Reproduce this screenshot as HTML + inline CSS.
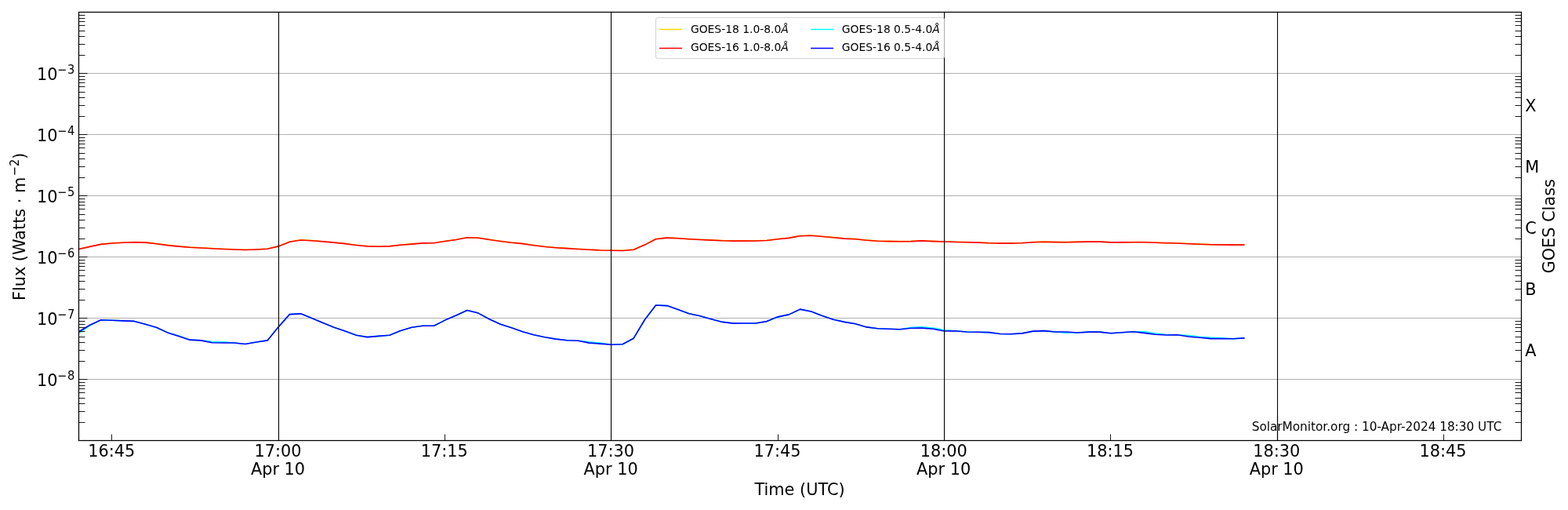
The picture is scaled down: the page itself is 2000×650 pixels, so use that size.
<!DOCTYPE html><html><head><meta charset="utf-8"><title>GOES X-ray Flux</title>
<style>html,body{margin:0;padding:0;background:#fff;}svg{display:block;}text{font-family:"DejaVu Sans", "Liberation Sans", sans-serif;fill:#000;}</style></head><body>
<svg width="2000" height="650" viewBox="0 0 2000 650">
<rect x="0" y="0" width="2000" height="650" fill="#fff"/>
<path d="M100.5 483.5H1940.5M100.5 405.5H1940.5M100.5 327.5H1940.5M100.5 249.5H1940.5M100.5 171.5H1940.5M100.5 93.5H1940.5" stroke="#b0b0b0" stroke-width="1.1" fill="none"/>
<defs><clipPath id="ax"><rect x="100.5" y="15.5" width="1840.0" height="546.0"/></clipPath></defs>
<g clip-path="url(#ax)" fill="none" stroke-width="1.6" stroke-linejoin="round" stroke-linecap="square">
<polyline points="100.50,317.30 114.65,314.20 128.81,311.20 142.96,309.80 157.12,309.05 171.27,308.55 185.42,308.90 199.58,310.50 213.73,312.40 227.88,313.90 242.04,315.10 256.19,315.80 270.35,316.55 284.50,317.30 298.65,317.80 312.81,318.25 326.96,317.75 341.12,317.05 355.27,313.70 369.42,308.10 383.58,305.80 397.73,306.60 411.88,307.70 426.04,308.95 440.19,310.40 454.35,312.30 468.50,313.70 482.65,314.05 496.81,313.70 510.96,312.10 525.12,310.90 539.27,309.70 553.42,309.50 567.58,307.35 581.73,305.30 595.88,302.60 610.04,303.10 624.19,305.30 638.35,307.35 652.50,309.10 666.65,310.40 680.81,312.50 694.96,314.30 709.12,315.50 723.27,316.40 737.42,317.30 751.58,318.10 765.73,318.80 779.88,319.05 794.04,319.25 808.19,318.10 822.35,311.90 836.50,304.50 850.65,302.90 864.81,303.60 878.96,304.60 893.12,305.30 907.27,305.90 921.42,306.60 935.58,306.90 949.73,306.90 963.88,306.80 978.04,306.30 992.19,304.60 1006.35,303.15 1020.50,300.50 1034.65,300.00 1048.81,301.25 1062.96,302.60 1077.12,303.90 1091.27,304.60 1105.42,306.10 1119.58,307.10 1133.73,307.40 1147.88,307.60 1162.04,307.40 1176.19,306.70 1190.35,307.40 1204.50,307.80 1218.65,308.30 1232.81,308.60 1246.96,308.95 1261.12,309.60 1275.27,309.90 1289.42,309.90 1303.58,309.50 1317.73,308.60 1331.88,308.10 1346.04,308.45 1360.19,308.60 1374.35,308.15 1388.50,307.95 1402.65,307.95 1416.81,308.70 1430.96,308.70 1445.12,308.50 1459.27,308.50 1473.42,309.10 1487.58,309.60 1501.73,309.80 1515.88,310.50 1530.04,311.10 1544.19,311.60 1558.35,311.70 1572.50,311.90 1586.65,311.90" stroke="#ffd700"/>
<polyline points="100.50,317.50 114.65,314.40 128.81,311.40 142.96,310.00 157.12,309.25 171.27,308.75 185.42,309.10 199.58,310.70 213.73,312.60 227.88,314.10 242.04,315.30 256.19,316.00 270.35,316.75 284.50,317.50 298.65,318.00 312.81,318.45 326.96,317.95 341.12,317.25 355.27,313.90 369.42,308.30 383.58,306.00 397.73,306.80 411.88,307.90 426.04,309.15 440.19,310.60 454.35,312.50 468.50,313.90 482.65,314.25 496.81,313.90 510.96,312.30 525.12,311.10 539.27,309.90 553.42,309.70 567.58,307.55 581.73,305.50 595.88,302.80 610.04,303.30 624.19,305.50 638.35,307.55 652.50,309.30 666.65,310.60 680.81,312.70 694.96,314.50 709.12,315.70 723.27,316.60 737.42,317.50 751.58,318.30 765.73,319.00 779.88,319.25 794.04,319.45 808.19,318.30 822.35,312.10 836.50,304.70 850.65,303.10 864.81,303.80 878.96,304.80 893.12,305.50 907.27,306.10 921.42,306.80 935.58,307.10 949.73,307.10 963.88,307.00 978.04,306.50 992.19,304.80 1006.35,303.35 1020.50,300.70 1034.65,300.20 1048.81,301.45 1062.96,302.80 1077.12,304.10 1091.27,304.80 1105.42,306.30 1119.58,307.30 1133.73,307.60 1147.88,307.80 1162.04,307.60 1176.19,306.90 1190.35,307.60 1204.50,308.00 1218.65,308.50 1232.81,308.80 1246.96,309.15 1261.12,309.80 1275.27,310.10 1289.42,310.10 1303.58,309.70 1317.73,308.80 1331.88,308.30 1346.04,308.65 1360.19,308.80 1374.35,308.35 1388.50,308.15 1402.65,308.15 1416.81,308.90 1430.96,308.90 1445.12,308.70 1459.27,308.70 1473.42,309.30 1487.58,309.80 1501.73,310.00 1515.88,310.70 1530.04,311.30 1544.19,311.80 1558.35,311.90 1572.50,312.10 1586.65,312.10" stroke="#ff0000"/>
<polyline points="100.50,424.60 114.65,414.80 128.81,407.75 142.96,408.30 157.12,408.90 171.27,409.40 185.42,413.30 199.58,417.70 213.73,423.90 227.88,427.80 242.04,433.15 256.19,433.90 270.35,435.60 284.50,435.85 298.65,436.95 312.81,438.45 326.96,436.00 341.12,433.90 355.27,416.60 369.42,400.60 383.58,399.85 397.73,405.50 411.88,411.50 426.04,417.20 440.19,422.10 454.35,427.20 468.50,429.60 482.65,428.40 496.81,427.20 510.96,421.40 525.12,417.30 539.27,415.20 553.42,415.20 567.58,408.10 581.73,402.00 595.88,395.40 610.04,399.10 624.19,406.70 638.35,413.30 652.50,417.70 666.65,422.70 680.81,426.80 694.96,429.80 709.12,432.10 723.27,433.70 737.42,434.25 751.58,435.90 765.73,437.10 779.88,439.20 794.04,438.70 808.19,431.20 822.35,407.50 836.50,389.00 850.65,389.60 864.81,394.60 878.96,399.80 893.12,402.80 907.27,406.70 921.42,410.40 935.58,412.10 949.73,412.00 963.88,412.00 978.04,409.60 992.19,403.85 1006.35,400.90 1020.50,394.15 1034.65,397.00 1048.81,402.50 1062.96,407.25 1077.12,410.40 1091.27,412.80 1105.42,416.90 1119.58,418.80 1133.73,419.30 1147.88,419.70 1162.04,417.40 1176.19,416.90 1190.35,418.10 1204.50,420.70 1218.65,421.70 1232.81,423.00 1246.96,423.20 1261.12,423.60 1275.27,425.50 1289.42,425.80 1303.58,424.90 1317.73,422.10 1331.88,421.60 1346.04,423.00 1360.19,424.10 1374.35,424.00 1388.50,423.15 1402.65,423.15 1416.81,424.70 1430.96,423.80 1445.12,422.80 1459.27,422.65 1473.42,425.10 1487.58,426.50 1501.73,426.80 1515.88,427.60 1530.04,429.40 1544.19,430.20 1558.35,430.80 1572.50,431.80 1586.65,430.90" stroke="#00ffff"/>
<polyline points="100.50,422.80 114.65,414.20 128.81,407.75 142.96,408.30 157.12,408.90 171.27,409.40 185.42,413.30 199.58,417.20 213.73,423.90 227.88,428.50 242.04,433.15 256.19,433.90 270.35,436.70 284.50,436.95 298.65,436.95 312.81,438.45 326.96,436.00 341.12,433.90 355.27,416.60 369.42,400.60 383.58,399.85 397.73,405.50 411.88,411.50 426.04,417.20 440.19,422.10 454.35,427.20 468.50,429.60 482.65,428.40 496.81,427.20 510.96,421.40 525.12,417.30 539.27,415.20 553.42,415.20 567.58,408.10 581.73,402.00 595.88,395.40 610.04,399.10 624.19,406.70 638.35,413.30 652.50,417.70 666.65,422.70 680.81,426.80 694.96,429.80 709.12,432.10 723.27,433.70 737.42,434.25 751.58,437.10 765.73,438.10 779.88,439.20 794.04,438.70 808.19,431.20 822.35,407.50 836.50,389.00 850.65,389.60 864.81,394.60 878.96,399.80 893.12,402.80 907.27,406.70 921.42,410.40 935.58,412.10 949.73,412.00 963.88,412.00 978.04,409.60 992.19,403.85 1006.35,400.90 1020.50,394.15 1034.65,397.00 1048.81,402.50 1062.96,407.25 1077.12,410.40 1091.27,412.80 1105.42,416.90 1119.58,418.80 1133.73,419.30 1147.88,419.70 1162.04,418.30 1176.19,418.10 1190.35,419.20 1204.50,422.00 1218.65,421.70 1232.81,423.00 1246.96,423.20 1261.12,423.60 1275.27,425.50 1289.42,425.80 1303.58,424.90 1317.73,422.10 1331.88,421.60 1346.04,423.00 1360.19,423.00 1374.35,424.00 1388.50,423.15 1402.65,423.15 1416.81,424.70 1430.96,423.80 1445.12,422.80 1459.27,424.35 1473.42,426.30 1487.58,427.00 1501.73,426.80 1515.88,429.00 1530.04,430.30 1544.19,431.60 1558.35,431.60 1572.50,431.80 1586.65,430.90" stroke="#0000ff"/>
</g>
<path d="M355.5 15.5V561.5M779.5 15.5V561.5M1204.5 15.5V561.5M1629.5 15.5V561.5" stroke="#000" stroke-width="1.1" fill="none"/>
<path d="M100.5 538.5H108.5M1932.5 538.5H1940.5M100.5 524.5H108.5M1932.5 524.5H1940.5M100.5 514.5H108.5M1932.5 514.5H1940.5M100.5 507.5H108.5M1932.5 507.5H1940.5M100.5 500.5H108.5M1932.5 500.5H1940.5M100.5 495.5H108.5M1932.5 495.5H1940.5M100.5 491.5H108.5M1932.5 491.5H1940.5M100.5 487.5H108.5M1932.5 487.5H1940.5M100.5 483.5H111.5M100.5 460.5H108.5M1932.5 460.5H1940.5M100.5 446.5H108.5M1932.5 446.5H1940.5M100.5 436.5H108.5M1932.5 436.5H1940.5M100.5 429.5H108.5M1932.5 429.5H1940.5M100.5 422.5H108.5M1932.5 422.5H1940.5M100.5 417.5H108.5M1932.5 417.5H1940.5M100.5 413.5H108.5M1932.5 413.5H1940.5M100.5 409.5H108.5M1932.5 409.5H1940.5M100.5 405.5H111.5M100.5 382.5H108.5M1932.5 382.5H1940.5M100.5 368.5H108.5M1932.5 368.5H1940.5M100.5 358.5H108.5M1932.5 358.5H1940.5M100.5 351.5H108.5M1932.5 351.5H1940.5M100.5 344.5H108.5M1932.5 344.5H1940.5M100.5 339.5H108.5M1932.5 339.5H1940.5M100.5 335.5H108.5M1932.5 335.5H1940.5M100.5 331.5H108.5M1932.5 331.5H1940.5M100.5 327.5H111.5M100.5 304.5H108.5M1932.5 304.5H1940.5M100.5 290.5H108.5M1932.5 290.5H1940.5M100.5 280.5H108.5M1932.5 280.5H1940.5M100.5 273.5H108.5M1932.5 273.5H1940.5M100.5 266.5H108.5M1932.5 266.5H1940.5M100.5 261.5H108.5M1932.5 261.5H1940.5M100.5 257.5H108.5M1932.5 257.5H1940.5M100.5 253.5H108.5M1932.5 253.5H1940.5M100.5 249.5H111.5M100.5 226.5H108.5M1932.5 226.5H1940.5M100.5 212.5H108.5M1932.5 212.5H1940.5M100.5 202.5H108.5M1932.5 202.5H1940.5M100.5 195.5H108.5M1932.5 195.5H1940.5M100.5 188.5H108.5M1932.5 188.5H1940.5M100.5 183.5H108.5M1932.5 183.5H1940.5M100.5 179.5H108.5M1932.5 179.5H1940.5M100.5 175.5H108.5M1932.5 175.5H1940.5M100.5 171.5H111.5M100.5 148.5H108.5M1932.5 148.5H1940.5M100.5 134.5H108.5M1932.5 134.5H1940.5M100.5 124.5H108.5M1932.5 124.5H1940.5M100.5 117.5H108.5M1932.5 117.5H1940.5M100.5 110.5H108.5M1932.5 110.5H1940.5M100.5 105.5H108.5M1932.5 105.5H1940.5M100.5 101.5H108.5M1932.5 101.5H1940.5M100.5 97.5H108.5M1932.5 97.5H1940.5M100.5 93.5H111.5M100.5 70.5H108.5M1932.5 70.5H1940.5M100.5 56.5H108.5M1932.5 56.5H1940.5M100.5 46.5H108.5M1932.5 46.5H1940.5M100.5 39.5H108.5M1932.5 39.5H1940.5M100.5 32.5H108.5M1932.5 32.5H1940.5M100.5 27.5H108.5M1932.5 27.5H1940.5M100.5 23.5H108.5M1932.5 23.5H1940.5M100.5 19.5H108.5M1932.5 19.5H1940.5M142.5 561.5V553.5M355.5 561.5V553.5M567.5 561.5V553.5M779.5 561.5V553.5M992.5 561.5V553.5M1204.5 561.5V553.5M1416.5 561.5V553.5M1629.5 561.5V553.5M1841.5 561.5V553.5" stroke="#000" stroke-width="0.9" fill="none"/>
<text x="1596.7" y="548.7" font-size="15.28">SolarMonitor.org : 10-Apr-2024 18:30 UTC</text>
<path d="M1629.5 530V560" stroke="#000" stroke-width="1.1"/>
<rect x="100.5" y="15.5" width="1840.0" height="546.0" fill="none" stroke="#000" stroke-width="1.25"/>
<rect x="836.5" y="22.5" width="368.0" height="52.0" rx="2.8" ry="2.8" fill="#fff" fill-opacity="0.8" stroke="#ccc" stroke-opacity="0.8" stroke-width="1.1"/>
<path d="M840.95 37.5H869.95" stroke="#ffd700" stroke-width="1.5"/>
<text x="880.9" y="41.5" font-size="13.89">GOES-18 1.0-8.0<tspan font-style="italic">Å</tspan></text>
<path d="M840.95 61.5H869.95" stroke="#ff0000" stroke-width="1.5"/>
<text x="880.9" y="64.8" font-size="13.89">GOES-16 1.0-8.0<tspan font-style="italic">Å</tspan></text>
<path d="M1034.06 37.5H1063.06" stroke="#00ffff" stroke-width="1.5"/>
<text x="1073.8" y="41.5" font-size="13.89">GOES-18 0.5-4.0<tspan font-style="italic">Å</tspan></text>
<path d="M1034.06 61.5H1063.06" stroke="#0000ff" stroke-width="1.5"/>
<text x="1073.8" y="64.8" font-size="13.89">GOES-16 0.5-4.0<tspan font-style="italic">Å</tspan></text>
<text x="47.0" y="491.90" font-size="20.83">10</text>
<text transform="translate(73.0,483.65) scale(1,1.08)" font-size="14.58">−<tspan dx="0.8">8</tspan></text>
<text x="47.0" y="413.90" font-size="20.83">10</text>
<text transform="translate(73.0,405.65) scale(1,1.08)" font-size="14.58">−<tspan dx="0.8">7</tspan></text>
<text x="47.0" y="335.90" font-size="20.83">10</text>
<text transform="translate(73.0,327.65) scale(1,1.08)" font-size="14.58">−<tspan dx="0.8">6</tspan></text>
<text x="47.0" y="257.90" font-size="20.83">10</text>
<text transform="translate(73.0,249.65) scale(1,1.08)" font-size="14.58">−<tspan dx="0.8">5</tspan></text>
<text x="47.0" y="179.90" font-size="20.83">10</text>
<text transform="translate(73.0,171.65) scale(1,1.08)" font-size="14.58">−<tspan dx="0.8">4</tspan></text>
<text x="47.0" y="101.90" font-size="20.83">10</text>
<text transform="translate(73.0,93.65) scale(1,1.08)" font-size="14.58">−<tspan dx="0.8">3</tspan></text>
<text x="142.2" y="582.2" font-size="20.83" text-anchor="middle">16:45</text>
<text x="354.5" y="582.2" font-size="20.83" text-anchor="middle">17:00</text>
<text x="354.5" y="604.8" font-size="20.83" text-anchor="middle">Apr 10</text>
<text x="566.8" y="582.2" font-size="20.83" text-anchor="middle">17:15</text>
<text x="779.1" y="582.2" font-size="20.83" text-anchor="middle">17:30</text>
<text x="779.1" y="604.8" font-size="20.83" text-anchor="middle">Apr 10</text>
<text x="991.4" y="582.2" font-size="20.83" text-anchor="middle">17:45</text>
<text x="1203.7" y="582.2" font-size="20.83" text-anchor="middle">18:00</text>
<text x="1203.7" y="604.8" font-size="20.83" text-anchor="middle">Apr 10</text>
<text x="1416.0" y="582.2" font-size="20.83" text-anchor="middle">18:15</text>
<text x="1628.3" y="582.2" font-size="20.83" text-anchor="middle">18:30</text>
<text x="1628.3" y="604.8" font-size="20.83" text-anchor="middle">Apr 10</text>
<text x="1840.6" y="582.2" font-size="20.83" text-anchor="middle">18:45</text>
<text x="1945.3" y="141.8" font-size="20.83">X</text>
<text x="1945.3" y="219.8" font-size="20.83">M</text>
<text x="1945.3" y="297.8" font-size="20.83">C</text>
<text x="1945.3" y="375.8" font-size="20.83">B</text>
<text x="1945.3" y="453.8" font-size="20.83">A</text>
<text x="1020" y="630.8" font-size="20.83" text-anchor="middle">Time (UTC)</text>
<text transform="translate(32,288.9) rotate(-90)" x="-94.18" y="0" font-size="20.83">Flux (Watts · m</text>
<text transform="translate(32,288.9) rotate(-90) translate(64.57,-8.25) scale(1,1.12)" font-size="14.58">−2</text>
<text transform="translate(32,288.9) rotate(-90)" x="86.06" y="0" font-size="20.83">)</text>
<text transform="translate(1982.7,288.3) rotate(-90)" font-size="20.83" text-anchor="middle">GOES Class</text>
</svg></body></html>
